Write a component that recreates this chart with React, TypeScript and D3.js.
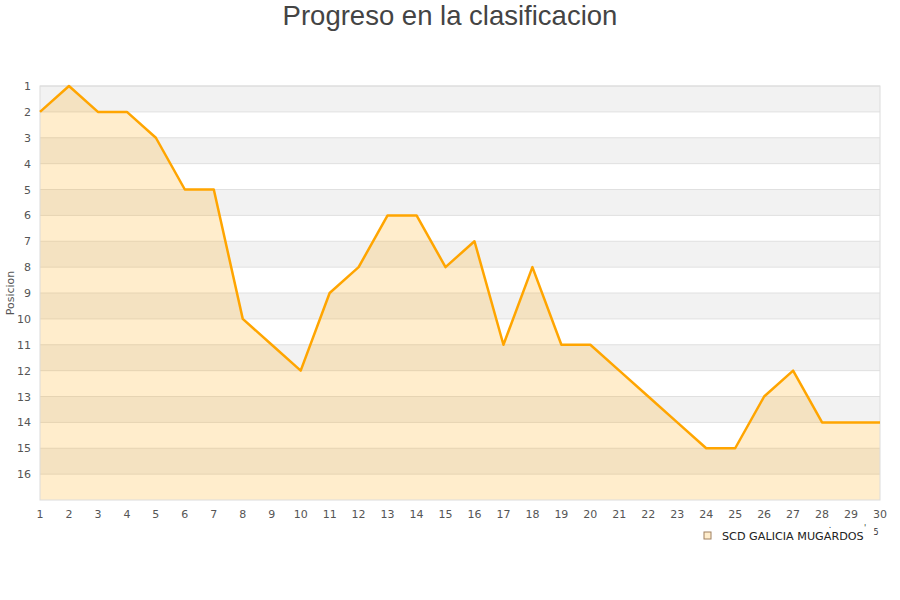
import React from "react";
import * as d3 from "d3";

const jornadas = d3.range(1, 31);
const posiciones = [2, 1, 2, 2, 3, 5, 5, 10, 11, 12, 9, 8, 6, 6, 8, 7, 11, 8, 11, 11, 12, 13, 14, 15, 15, 13, 12, 14, 14, 14];
const yTicks = d3.range(1, 17);
const seriesName = "SCD GALICIA MUGARDOS";
const title = "Progreso en la clasificacion";
const yLabel = "Posicion";

export default function App() {
  const W = 900, H = 600;
  const left = 40, right = 880, top = 86, bottom = 500;
  const x = d3.scaleLinear().domain([1, 30]).range([left, right]);
  const y = d3.scaleLinear().domain([1, 17]).range([top, bottom]);
  const pts = jornadas.map((j, i) => [j, posiciones[i]] as [number, number]);
  const line = d3.line<[number, number]>().x(d => x(d[0])).y(d => y(d[1]));
  const area = d3.area<[number, number]>().x(d => x(d[0])).y0(bottom).y1(d => y(d[1]));
  const bands = d3.range(1, 17).filter(v => v % 2 === 1);
  const font = "DejaVu Sans, sans-serif";
  return (
    <svg width={W} height={H} style={{ position: "absolute", left: 0, top: 0 }}>
      <rect width={W} height={H} fill="#fff" />
      <text x={450} y={25} textAnchor="middle" fontFamily="Liberation Sans, Arial, sans-serif" fontSize={27.5} fill="#444">{title}</text>
      {bands.map(b => (
        <rect key={b} x={left} y={y(b)} width={right - left} height={y(b + 1) - y(b)} fill="#f2f2f2" />
      ))}
      {yTicks.map(t => (
        <line key={t} x1={left} x2={right} y1={y(t)} y2={y(t)} stroke="#e0e0e0" strokeWidth={1} />
      ))}
      <path d={area(pts) || ""} fill="rgb(255,165,0)" fillOpacity={0.2} />
      <rect x={left} y={top} width={right - left} height={bottom - top} fill="none" stroke="#dcdcdc" strokeWidth={1} />
      <path d={line(pts) || ""} fill="none" stroke="#ffa500" strokeWidth={2.5} strokeLinejoin="round" />
      {yTicks.map(t => (
        <text key={t} x={31} y={y(t) + 4} textAnchor="end" fontFamily={font} fontSize={11} fill="#555">{t}</text>
      ))}
      {jornadas.map(j => (
        <text key={j} x={x(j)} y={518} textAnchor="middle" fontFamily={font} fontSize={11} fill="#555">{j}</text>
      ))}
      <text transform={`translate(14,${(top + bottom) / 2}) rotate(-90)`} textAnchor="middle" fontFamily={font} fontSize={11} fill="#555">{yLabel}</text>
      <rect x={704} y={532} width={7} height={7} fill="#ffedcc" stroke="#a08060" strokeWidth={1} />
      <text x={722} y={540} fontFamily={font} fontSize={11.2} fill="#222">{seriesName}</text>
      <text x={876} y={535} textAnchor="middle" fontFamily={font} fontSize={8} fill="#333">5</text>
      <text x={830} y={528} textAnchor="middle" fontFamily={font} fontSize={8} fill="#333">.</text>
      <text x={865} y={531} textAnchor="middle" fontFamily={font} fontSize={8} fill="#333">'</text>
    </svg>
  );
}
